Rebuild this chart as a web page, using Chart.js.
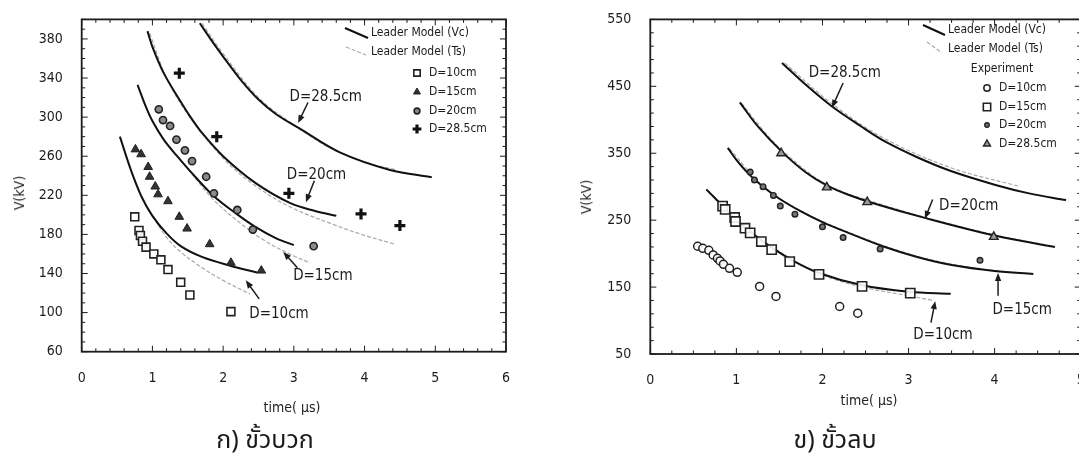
<!DOCTYPE html>
<html>
<head>
<meta charset="utf-8">
<title>Leader model vs experiment</title>
<script src="https://cdn.jsdelivr.net/npm/chart.js@4/dist/chart.umd.min.js"></script>
<style>
  html, body { margin: 0; padding: 0; background: #fff; overflow: hidden; }
  body { width: 1079px; height: 467px; position: relative; }
  canvas { position: absolute; top: 0; }
  #chartPos { left: 0; }
  #chartNeg { left: 540px; }
  .lbl {
    position: absolute; transform: translate(-50%, -50%); white-space: nowrap;
    font-family: "DejaVu Sans Condensed", "Liberation Sans Narrow", "DejaVu Sans", sans-serif;
    font-size: 14px; color: #222;
  }
  .lbl.rot { transform: translate(-50%, -50%) rotate(-90deg); }
  .cap { font-family: "Noto Sans Thai", "Noto Sans", "DejaVu Sans", sans-serif; font-size: 25px; color: #1a1a1a; }
</style>
</head>
<body>
<canvas id="chartPos" width="540" height="467"></canvas>
<canvas id="chartNeg" width="560" height="467"></canvas>

<div class="lbl rot" style="left:19px; top:193px;">V(kV)</div>
<div class="lbl" style="left:292px; top:407px;">time( μs)</div>
<div class="lbl cap" style="left:265px; top:440px;">ก) ขั้วบวก</div>

<div class="lbl rot" style="left:586px; top:197px;">V(kV)</div>
<div class="lbl" style="left:869px; top:400px;">time( μs)</div>
<div class="lbl cap" style="left:835px; top:440px;">ข) ขั้วลบ</div>

<script>
/* Breakdown voltage vs time to breakdown, positive (left) and negative (right) polarity.
   Values. Each pair is [time (us), V (kV)]. */

// ---- positive polarity: experiment ----
const posExp10 = [[0.75,198],[0.81,184],[0.83,179],[0.86,173],[0.91,167],[1.02,160],[1.12,154],[1.22,144],[1.40,131],[1.53,118],[2.11,101]];
const posExp15 = [[0.76,267],[0.84,262],[0.94,249],[0.96,239],[1.04,229],[1.08,221],[1.22,214],[1.38,198],[1.49,186],[1.81,170],[2.11,151],[2.54,143]];
const posExp20 = [[1.09,308],[1.15,297],[1.25,291],[1.34,277],[1.46,266],[1.56,255],[1.76,239],[1.87,222],[2.20,205],[2.42,185],[3.28,168]];
const posExp285 = [[1.38,345],[1.91,280],[2.93,222],[3.95,201],[4.50,189]];

// ---- positive polarity: leader model ----
const posVc10 = [[0.54,280],[0.70,245],[0.85,218],[1.00,199],[1.20,181],[1.40,168],[1.70,157],[2.10,148],[2.48,141]];
const posTs10 = [[1.00,199],[1.20,177],[1.40,162],[1.70,146],[2.00,133],[2.38,119]];
const posVc15 = [[0.79,333],[0.90,312],[1.00,296],[1.16,277],[1.35,260],[1.53,245],[1.87,219],[2.19,201],[2.45,188],[2.75,176],[3.00,169]];
const posTs15 = [[1.50,247],[1.87,215],[2.20,194],[2.60,173],[3.00,158],[3.23,151]];
const posVc20 = [[0.93,388],[1.00,372],[1.16,345],[1.39,317],[1.53,301],[1.70,284],[2.00,260],[2.45,233],[2.95,212],[3.30,204],[3.60,199]];
const posTs20 = [[0.96,386],[1.20,340],[1.50,303],[2.00,258],[2.45,230],[2.95,208],[3.60,189],[4.00,179],[4.43,170]];
const posVc285 = [[1.67,396],[1.85,377],[2.00,362],[2.24,339],[2.50,318],[2.75,303],[3.09,288],[3.65,264],[4.36,246],[4.95,238.5]];
const posTs285 = [[1.70,396],[2.00,365],[2.50,320],[3.00,292],[3.50,269],[4.00,254],[4.45,246]];

// ---- negative polarity: experiment ----
const negExp10 = [[0.55,211],[0.61,208],[0.68,205],[0.73,198],[0.78,193],[0.81,189],[0.85,184],[0.92,178],[1.01,172],[1.27,151],[1.46,136],[2.20,121],[2.41,111]];
const negExp15 = [[0.84,271],[0.87,266],[0.98,254],[0.99,248],[1.10,238],[1.16,231],[1.29,218],[1.41,206],[1.62,188],[1.96,169],[2.46,151],[3.02,141]];
const negExp20 = [[1.16,322],[1.21,310],[1.31,300],[1.43,287],[1.51,271],[1.68,259],[2.00,240],[2.24,224],[2.67,207],[3.83,190]];
const negExp285 = [[1.52,350],[2.05,299],[2.52,277],[3.99,225]];

// ---- negative polarity: leader model ----
const negVc10 = [[0.65,296],[0.85,270],[1.00,250],[1.20,229],[1.40,210],[1.65,190],[1.96,171],[2.45,153],[3.00,143],[3.49,140]];
const negTs10 = [[0.67,294],[1.00,250],[1.50,203],[2.00,168],[2.50,149],[3.00,137],[3.29,130]];
const negVc15 = [[0.90,358],[1.00,340],[1.15,318],[1.30,301],[1.50,282],[1.75,263],[2.00,247],[2.30,231],[2.70,211],[3.10,195],[3.50,183],[4.00,174],[4.45,169.5]];
const negTs15 = [[0.92,357],[1.30,302],[1.75,264],[2.30,232],[3.10,196],[3.80,178],[4.30,171]];
const negVc20 = [[1.04,426],[1.25,390],[1.53,352],[1.80,322],[2.05,302],[2.30,288],[2.60,275],[3.20,253],[4.00,227],[4.70,210]];
const negTs20 = [[1.06,425],[1.30,386],[1.55,352],[2.05,303],[2.60,277],[3.20,254],[4.00,228],[4.60,213]];
const negVc285 = [[1.53,485],[1.80,453],[2.10,421],[2.45,390],[2.72,368],[3.10,344],[3.50,323],[4.00,303],[4.40,290],[4.83,280]];
const negTs285 = [[1.56,485],[2.10,425],[2.72,372],[3.50,328],[4.27,301]];

// ---- axes ----
const posXTicks = [0, 1, 2, 3, 4, 5, 6];
const posYTicks = [60, 100, 140, 180, 220, 260, 300, 340, 380];
const negXTicks = [0, 1, 2, 3, 4, 5];
const negYTicks = [50, 150, 250, 350, 450, 550];

// ---- labels ----
const seriesNames = ["D=10cm", "D=15cm", "D=20cm", "D=28.5cm"];
const modelNames = ["Leader Model (Vc)", "Leader Model (Ts)"];

(function () {
  "use strict";

  const FONT = "'DejaVu Sans Condensed', 'Liberation Sans Narrow', 'DejaVu Sans', sans-serif";
  const INK = "#1c1c1c";
  const VC = { borderColor: "#111", borderWidth: 2 };
  const TS = { borderColor: "#a9a9a9", borderWidth: 1.2, borderDash: [4, 2] };

  const xy = (pairs) => pairs.map(([x, y]) => ({ x: x, y: y }));

  function curve(pairs, style) {
    return Object.assign({
      data: xy(pairs), showLine: true, pointRadius: 0, pointHoverRadius: 0,
      tension: 0.35, fill: false,
      order: style === VC ? 2 : 3
    }, style);
  }

  function marks(pairs, style) {
    return Object.assign({ data: xy(pairs), showLine: false, order: 1 }, style);
  }

  // fallback in case helpers are not exposed
  function drawMarker(ctx, ds, x, y, r) {
    ctx.save();
    ctx.fillStyle = ds.backgroundColor || "transparent";
    ctx.strokeStyle = ds.borderColor;
    ctx.lineWidth = ds.borderWidth;
    if (Chart.helpers && Chart.helpers.drawPoint) {
      Chart.helpers.drawPoint(ctx, { pointStyle: ds.pointStyle, radius: r, rotation: 0, borderWidth: ds.borderWidth }, x, y);
    } else {
      ctx.beginPath(); ctx.arc(x, y, r, 0, Math.PI * 2); ctx.fill(); ctx.stroke();
    }
    ctx.restore();
  }

  function arrow(ctx, x1, y1, x2, y2) {
    const ang = Math.atan2(y2 - y1, x2 - x1), len = 8, half = 3.2;
    ctx.beginPath(); ctx.moveTo(x1, y1); ctx.lineTo(x2 - Math.cos(ang) * len * 0.6, y2 - Math.sin(ang) * len * 0.6); ctx.stroke();
    ctx.beginPath();
    ctx.moveTo(x2, y2);
    ctx.lineTo(x2 - Math.cos(ang) * len + Math.sin(ang) * half, y2 - Math.sin(ang) * len - Math.cos(ang) * half);
    ctx.lineTo(x2 - Math.cos(ang) * len - Math.sin(ang) * half, y2 - Math.sin(ang) * len + Math.cos(ang) * half);
    ctx.closePath(); ctx.fill();
  }

  // frame, inward minor ticks, curve annotations and the boxed-in legend
  const decor = {
    id: "decor",
    afterDatasetsDraw(chart, args, o) {
      const ctx = chart.ctx, a = chart.chartArea;
      const xs = chart.scales.x, ys = chart.scales.y;
      ctx.save();
      ctx.strokeStyle = INK; ctx.fillStyle = INK; ctx.lineWidth = 1.8;
      ctx.strokeRect(a.left, a.top, a.right - a.left, a.bottom - a.top);

      ctx.lineWidth = 1;
      const nx = Math.round((xs.max - xs.min) / o.xMinor);
      for (let i = 0; i <= nx; i++) {
        const v = xs.min + i * o.xMinor;
        const major = Math.abs(v / o.xMajor - Math.round(v / o.xMajor)) < 1e-6;
        const px = xs.getPixelForValue(v), len = major ? 6 : 3.5;
        ctx.beginPath();
        ctx.moveTo(px, a.bottom); ctx.lineTo(px, a.bottom - len);
        ctx.moveTo(px, a.top); ctx.lineTo(px, a.top + len);
        ctx.stroke();
      }
      const ny = Math.round((ys.max - ys.min) / o.yMinor);
      for (let i = 0; i <= ny; i++) {
        const v = ys.min + i * o.yMinor;
        const k = (v - o.yBase) / o.yMajor;
        const major = Math.abs(k - Math.round(k)) < 1e-6;
        const py = ys.getPixelForValue(v), len = major ? 6 : 3.5;
        ctx.beginPath();
        ctx.moveTo(a.left, py); ctx.lineTo(a.left + len, py);
        ctx.moveTo(a.right, py); ctx.lineTo(a.right - len, py);
        ctx.stroke();
      }

      // annotations
      ctx.font = "15px " + FONT;
      ctx.textAlign = "center"; ctx.textBaseline = "middle";
      ctx.lineWidth = 1.5;
      o.notes.forEach((n) => {
        ctx.fillText(n.text, xs.getPixelForValue(n.at[0]), ys.getPixelForValue(n.at[1]));
        arrow(ctx, xs.getPixelForValue(n.from[0]), ys.getPixelForValue(n.from[1]),
          xs.getPixelForValue(n.to[0]), ys.getPixelForValue(n.to[1]));
      });

      // legend
      const L = o.legend;
      ctx.font = "12px " + FONT;
      ctx.textAlign = "left";
      [VC, TS].forEach((st, i) => {
        const s = L.lines[i];
        ctx.save();
        ctx.strokeStyle = st.borderColor; ctx.lineWidth = st.borderWidth;
        ctx.setLineDash(st.borderDash || []);
        ctx.beginPath(); ctx.moveTo(s[0], s[1]); ctx.lineTo(s[2], s[3]); ctx.stroke();
        ctx.restore();
        ctx.fillText(modelNames[i], L.textX, s[4]);
      });
      if (L.header) {
        ctx.textAlign = "center";
        ctx.fillText(L.header[0], L.header[1], L.header[2]);
        ctx.textAlign = "left";
      }
      L.rows.forEach((ry, i) => {
        const ds = chart.data.datasets[i];
        drawMarker(ctx, ds, L.markX, ry, ds.pointRadius * 0.8);
        ctx.fillStyle = INK;
        ctx.fillText(seriesNames[i], L.markX + 12, ry);
      });
      ctx.restore();
    }
  };

  function scales(xTicks, yTicks, yMin, yMax, yWidth, xHeight) {
    const tickFont = { family: FONT, size: 14 };
    return {
      x: {
        type: "linear", min: xTicks[0], max: xTicks[xTicks.length - 1],
        grid: { display: false }, border: { display: false },
        ticks: { font: tickFont, color: INK, padding: 10, autoSkip: false, maxRotation: 0 },
        afterBuildTicks: (s) => { s.ticks = xTicks.map((v) => ({ value: v })); },
        afterFit: (s) => { s.height = xHeight; }
      },
      y: {
        type: "linear", min: yMin, max: yMax,
        grid: { display: false }, border: { display: false },
        ticks: { font: tickFont, color: INK, padding: 11, autoSkip: false },
        afterBuildTicks: (s) => { s.ticks = yTicks.map((v) => ({ value: v })); },
        afterFit: (s) => { s.width = yWidth; }
      }
    };
  }

  const baseOpts = {
    responsive: false, animation: false, devicePixelRatio: 1,
    events: [],
    plugins: { legend: { display: false }, tooltip: { enabled: false } }
  };

  // positive polarity
  new Chart(document.getElementById("chartPos"), {
    type: "scatter",
    data: {
      datasets: [
        marks(posExp10, { pointStyle: "rect", pointRadius: 5.6, backgroundColor: "rgba(255,255,255,0.9)", borderColor: "#222", borderWidth: 1.6 }),
        marks(posExp15, { pointStyle: "triangle", pointRadius: 5, backgroundColor: "#333", borderColor: "#222", borderWidth: 1 }),
        marks(posExp20, { pointStyle: "circle", pointRadius: 3.6, backgroundColor: "#8a8a8a", borderColor: "#222", borderWidth: 1.6 }),
        marks(posExp285, { pointStyle: "cross", pointRadius: 5.5, backgroundColor: "#111", borderColor: "#111", borderWidth: 3.2 }),
        curve(posVc10, VC), curve(posTs10, TS),
        curve(posVc15, VC), curve(posTs15, TS),
        curve(posVc20, VC), curve(posTs20, TS),
        curve(posVc285, VC), curve(posTs285, TS)
      ]
    },
    options: Object.assign({}, baseOpts, {
      layout: { padding: { top: 11.7, right: 34, left: 0, bottom: 0 } },
      scales: scales(posXTicks, posYTicks, 60, 400, 81.7, 115.3),
      plugins: Object.assign({}, baseOpts.plugins, {
        decor: {
          xMinor: 0.2, xMajor: 1, yMinor: 10, yMajor: 40, yBase: 60,
          notes: [
            { text: "D=28.5cm", at: [3.45, 320], from: [3.20, 315], to: [3.06, 294] },
            { text: "D=20cm", at: [3.32, 241], from: [3.29, 235], to: [3.17, 213] },
            { text: "D=15cm", at: [3.41, 137], from: [3.05, 146], to: [2.85, 162] },
            { text: "D=10cm", at: [2.79, 98], from: [2.51, 114], to: [2.32, 133] }
          ],
          legend: {
            lines: [[345, 28, 368, 38, 33], [346, 47, 366, 55, 52]],
            textX: 371, markX: 417, rows: [73, 92, 111, 129]
          }
        }
      })
    }),
    plugins: [decor]
  });

  // negative polarity
  new Chart(document.getElementById("chartNeg"), {
    type: "scatter",
    data: {
      datasets: [
        marks(negExp10, { pointStyle: "circle", pointRadius: 4, backgroundColor: "rgba(255,255,255,0.9)", borderColor: "#222", borderWidth: 1.5 }),
        marks(negExp15, { pointStyle: "rect", pointRadius: 6.5, backgroundColor: "rgba(255,255,255,0.9)", borderColor: "#222", borderWidth: 1.6 }),
        marks(negExp20, { pointStyle: "circle", pointRadius: 2.8, backgroundColor: "#777", borderColor: "#222", borderWidth: 1.4 }),
        marks(negExp285, { pointStyle: "triangle", pointRadius: 5, backgroundColor: "#9a9a9a", borderColor: "#222", borderWidth: 1.4 }),
        curve(negVc10, VC), curve(negTs10, TS),
        curve(negVc15, VC), curve(negTs15, TS),
        curve(negVc20, VC), curve(negTs20, TS),
        curve(negVc285, VC), curve(negTs285, TS)
      ]
    },
    options: Object.assign({}, baseOpts, {
      layout: { padding: { top: 12, right: 19.3, left: 0, bottom: 0 } },
      scales: scales(negXTicks, negYTicks, 50, 550, 110.3, 113),
      plugins: Object.assign({}, baseOpts.plugins, {
        decor: {
          xMinor: 0.25, xMajor: 1, yMinor: 20, yMajor: 100, yBase: 50,
          notes: [
            { text: "D=28.5cm", at: [2.26, 469], from: [2.24, 455], to: [2.11, 418] },
            { text: "D=20cm", at: [3.70, 271], from: [3.28, 281], to: [3.19, 252] },
            { text: "D=15cm", at: [4.32, 116], from: [4.04, 137], to: [4.04, 171] },
            { text: "D=10cm", at: [3.40, 78], from: [3.26, 97], to: [3.31, 129] }
          ],
          legend: {
            lines: [[383, 25, 405, 35, 30], [387, 42, 402, 53, 49]],
            textX: 408, header: ["Experiment", 462, 69], markX: 447, rows: [88, 107, 125, 144]
          }
        }
      })
    }),
    plugins: [decor]
  });
})();
</script>
</body>
</html>
